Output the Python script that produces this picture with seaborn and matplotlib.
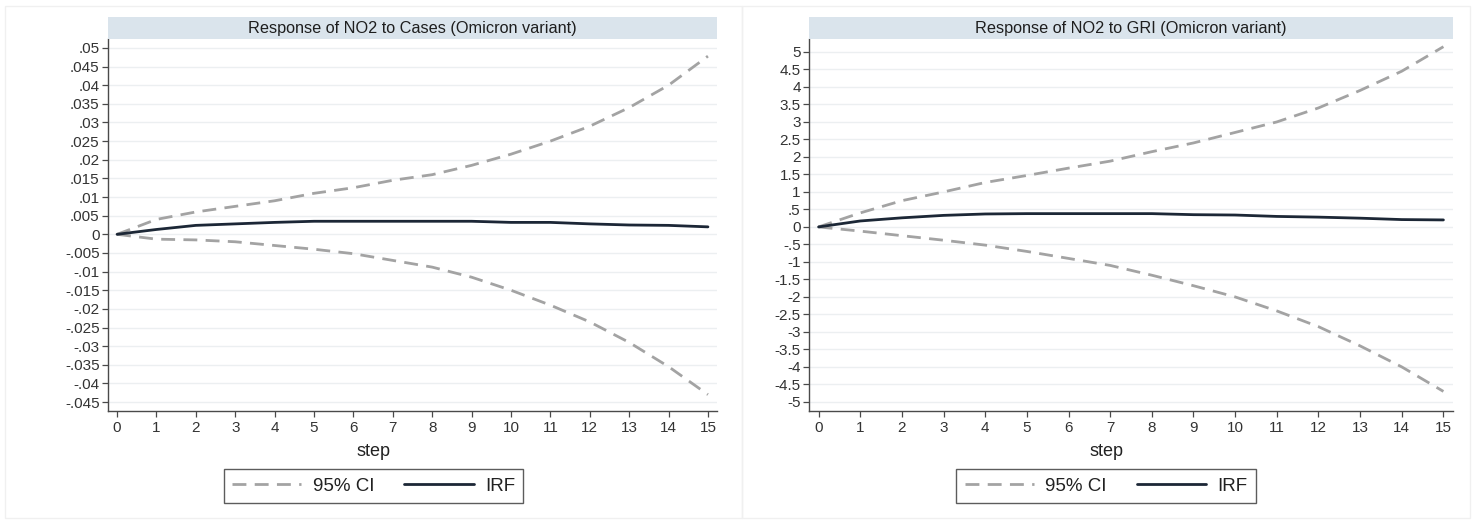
import numpy as np
import pandas as pd
import matplotlib
matplotlib.use("Agg")
import matplotlib.pyplot as plt
from matplotlib.patches import Rectangle
from matplotlib.lines import Line2D
import seaborn as sns

# Impulse-response data (step 0..15)
steps = list(range(16))

cases_upper = [0, .0040, .0060, .0075, .0090, .0110, .0125, .0145, .0160, .0185, .0215, .0250, .0290, .0340, .0400, .0478]
cases_lower = [0, -.0013, -.0015, -.0020, -.0030, -.0040, -.0052, -.0070, -.0088, -.0115, -.0150, -.0190, -.0235, -.0290, -.0355, -.0430]
cases_irf = [0, .0013, .0024, .0028, .0032, .0035, .0035, .0035, .0035, .0035, .0032, .0032, .0028, .0025, .0024, .0020]

gri_upper = [0, .40, .75, 1.00, 1.27, 1.47, 1.68, 1.88, 2.15, 2.40, 2.70, 3.00, 3.40, 3.90, 4.45, 5.15]
gri_lower = [0, -.12, -.25, -.38, -.52, -.70, -.90, -1.10, -1.38, -1.68, -2.00, -2.40, -2.85, -3.40, -4.00, -4.70]
gri_irf = [0, .17, .26, .33, .37, .38, .38, .38, .38, .35, .34, .30, .28, .25, .21, .20]

titles = ["Response of NO2 to Cases (Omicron variant)", "Response of NO2 to GRI (Omicron variant)"]

cases_ticks = [round(v, 3) + 0.0 for v in np.arange(-0.045, 0.0501, 0.005)]
gri_ticks = [round(v, 1) + 0.0 for v in np.arange(-5, 5.01, 0.5)]


def stata_label(v):
    if abs(v) < 1e-12:
        return "0"
    s = ("%g" % v)
    if s.startswith("0."):
        s = s[1:]
    elif s.startswith("-0."):
        s = "-" + s[2:]
    return s


sns.set_theme(style="white")
plt.rcParams["font.family"] = ["Liberation Sans", "DejaVu Sans"]

W, H = 1482, 525
fig = plt.figure(figsize=(W / 100, H / 100), dpi=100)

CI_COLOR = "#a3a3a3"
IRF_COLOR = "#1c2736"
GRID_COLOR = "#eceff1"
BAR_COLOR = "#dae4ec"

panels = [
    dict(x0=108, x1=717, upper=cases_upper, lower=cases_lower, irf=cases_irf,
         ticks=cases_ticks, ylim=(-0.0474, 0.0524), region=(5, 742), title=titles[0]),
    dict(x0=809, x1=1453, upper=gri_upper, lower=gri_lower, irf=gri_irf,
         ticks=gri_ticks, ylim=(-5.26, 5.37), region=(742, 1470), title=titles[1]),
]

top_px, bot_px = 39, 411

for p in panels:
    # faint graph-region frame
    rx0, rx1 = p["region"]
    fig.add_artist(Rectangle((rx0 / W, 1 - 518 / H), (rx1 - rx0) / W, 512 / H,
                             transform=fig.transFigure, facecolor="none",
                             edgecolor="#f0f0f0", lw=1.0))

    ax = fig.add_axes([p["x0"] / W, 1 - bot_px / H, (p["x1"] - p["x0"]) / W, (bot_px - top_px) / H])
    df = pd.DataFrame({"step": steps, "upper": p["upper"], "lower": p["lower"], "irf": p["irf"]})

    sns.lineplot(data=df, x="step", y="upper", ax=ax, color=CI_COLOR, lw=2.0)
    sns.lineplot(data=df, x="step", y="lower", ax=ax, color=CI_COLOR, lw=2.0)
    for ln in ax.lines:
        ln.set_linestyle((0, (5, 3)))
    sns.lineplot(data=df, x="step", y="irf", ax=ax, color=IRF_COLOR, lw=2.0)

    ax.set_xlim(-0.23, 15.23)
    ax.set_ylim(*p["ylim"])
    ax.set_xticks(steps)
    ax.set_yticks(p["ticks"])
    ax.set_yticklabels([stata_label(v) for v in p["ticks"]])
    ax.set_xlabel("")
    ax.set_ylabel("")
    ax.yaxis.grid(True, color=GRID_COLOR, lw=1.0)
    ax.xaxis.grid(False)
    ax.set_axisbelow(True)
    for side in ("top", "right"):
        ax.spines[side].set_visible(False)
    for side in ("left", "bottom"):
        ax.spines[side].set_color("#4a4a4a")
        ax.spines[side].set_linewidth(1.0)
    ax.tick_params(axis="both", which="major", direction="out", length=4, width=0.9,
                   color="#4a4a4a", labelsize=11, labelcolor="#333333", pad=2,
                   left=True, bottom=True)
    ax.tick_params(axis="x", pad=3)

    # title bar
    fig.add_artist(Rectangle((p["x0"] / W, 1 - 39 / H), (p["x1"] - p["x0"]) / W, 22 / H,
                             transform=fig.transFigure, facecolor=BAR_COLOR, edgecolor="none"))
    fig.text((p["x0"] + p["x1"]) / 2 / W, 1 - 28 / H, p["title"], ha="center", va="center",
             fontsize=11.7, color="#1e1e1e")

    cx = (rx0 + rx1) / 2 / W
    fig.text(cx, 1 - 452 / H, "step", ha="center", va="center", fontsize=13, color="#222222")

    handles = [Line2D([], [], color=CI_COLOR, lw=2.0, linestyle=(0, (5, 3))),
               Line2D([], [], color=IRF_COLOR, lw=2.0)]
    leg = fig.legend(handles, ["95% CI", "IRF"], loc="center", bbox_to_anchor=(cx, 1 - 486 / H),
                     ncol=2, fontsize=13.5, frameon=True, fancybox=False, handlelength=3.7,
                     columnspacing=1.6, handletextpad=0.6, borderpad=0.45, borderaxespad=0)
    leg.get_frame().set_edgecolor("#333333")
    leg.get_frame().set_linewidth(1.0)
    for t in leg.get_texts():
        t.set_color("#222222")

fig.savefig("out.png", dpi=100, facecolor="white")
